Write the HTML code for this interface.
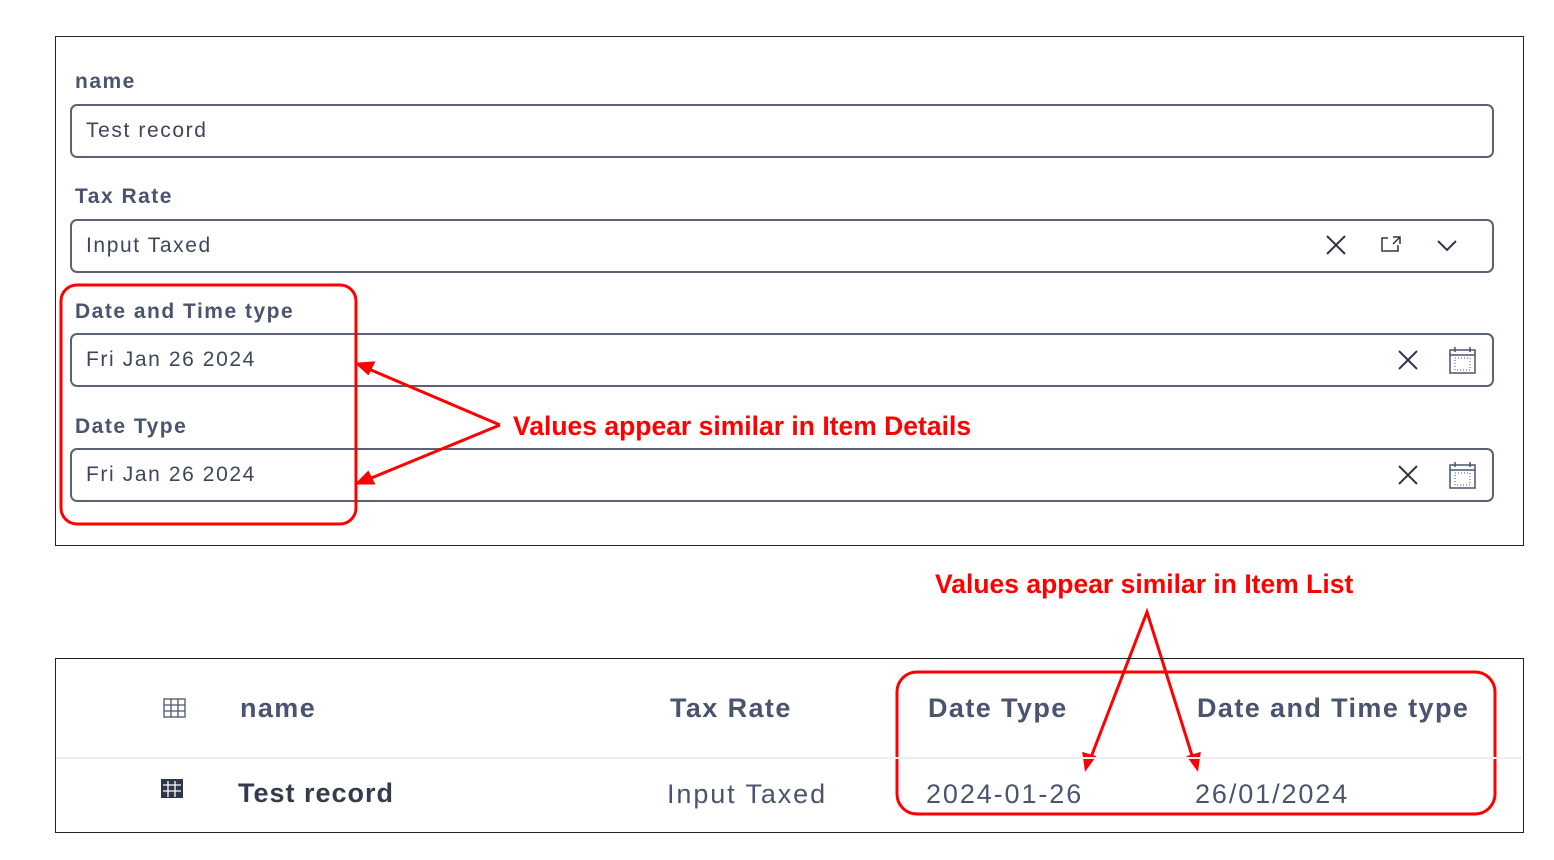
<!DOCTYPE html>
<html><head><meta charset="utf-8"><style>
body{margin:0;width:1554px;height:860px;background:#fff;position:relative;overflow:hidden;font-family:"Liberation Sans",sans-serif}
.a{position:absolute;white-space:nowrap}
.lbl{font-size:21px;font-weight:bold;color:#4a5470;line-height:24px;letter-spacing:1.5px}
.inp{position:absolute;left:70px;width:1424px;border:2px solid #5a6278;border-radius:7px;box-sizing:border-box;height:54px}
.val{position:absolute;left:14px;top:13px;font-size:21px;color:#3e465c;letter-spacing:1.6px}
.hd{font-size:27px;font-weight:bold;color:#4a5470;line-height:30px;letter-spacing:1.4px}
.cell{font-size:27px;color:#4a5470;line-height:30px;letter-spacing:1.9px}
.red{color:#f00;font-weight:bold;font-size:26.5px;line-height:30px}
</style></head><body>
<div class="a" style="left:55px;top:36px;width:1467px;height:508px;border:1px solid #222"></div>
<div class="a lbl" style="left:75px;top:70px">name</div>
<div class="inp" style="top:104px"><span class="val">Test record</span></div>
<div class="a lbl" style="left:75px;top:185px">Tax Rate</div>
<div class="inp" style="top:219px"><span class="val">Input Taxed</span></div>
<div class="a lbl" style="left:75px;top:300px">Date and Time type</div>
<div class="inp" style="top:333px"><span class="val">Fri Jan 26 2024</span></div>
<div class="a lbl" style="left:75px;top:415px">Date Type</div>
<div class="inp" style="top:448px"><span class="val">Fri Jan 26 2024</span></div>
<svg class="a" style="left:0;top:0" width="1554" height="860">
<g stroke="#2f364a" stroke-width="2" fill="none">
<path d="M1327 236l18 18M1345 236l-18 18"/>
<path d="M1388 238h-6v13h16v-6M1393 237h7v7M1400 237l-7 7" stroke-width="1.5"/>
<path d="M1438 241l9 9 9-9"/>
<path d="M1399 351l18 18M1417 351l-18 18"/>
<path d="M1399 466l18 18M1417 466l-18 18"/>
</g>
<g stroke="#4a5470" stroke-width="1.5" fill="none">
<rect x="1450" y="350" width="25" height="23"/><path d="M1450 355h25M1455 347v5M1470 347v5"/>
<rect x="1450" y="465" width="25" height="23"/><path d="M1450 470h25M1455 462v5M1470 462v5"/>
</g>
<g><rect x="1455" y="358" width="15" height="12" fill="none" stroke="#4a5470" stroke-dasharray="1 2"/><rect x="1455" y="473" width="15" height="12" fill="none" stroke="#4a5470" stroke-dasharray="1 2"/></g>
<rect x="61" y="285" width="295" height="239" rx="16" fill="none" stroke="#f00" stroke-width="3"/>
<g stroke="#f00" stroke-width="3" fill="#f00">
<path d="M500 425L364 367M500 425L364 481" fill="none"/>
<path d="M358 364l15 -1l-5 10z"/><path d="M358 483l10 -10l5 10z"/>
<path d="M1088 765L1147 612L1195 765" fill="none"/>
<path d="M1086 768l-2 -14l10 3z"/><path d="M1197 768l-8 -11l10 -3z"/>
</g>
<rect x="897" y="672" width="598" height="142" rx="20" fill="none" stroke="#f00" stroke-width="3"/>
<line x1="56" y1="758" x2="1522" y2="758" stroke="#eceef2" stroke-width="2"/>
<g stroke="#4a5470" stroke-width="1.3" fill="none"><rect x="164" y="699" width="21" height="18"/><path d="M164 705h21M164 711h21M171 699v18M178 699v18"/></g>
<g><rect x="161" y="779" width="22" height="19" fill="#2f364a"/><path d="M163 785h18M163 791h18M168 781v16M175 781v16" stroke="#fff" stroke-width="1.3"/></g>
</svg>
<div class="a red" style="left:513px;top:411px">Values appear similar in Item Details</div>
<div class="a" style="left:55px;top:658px;width:1467px;height:173px;border:1px solid #222"></div>
<div class="a red" style="left:935px;top:569px">Values appear similar in Item List</div>
<div class="a hd" style="left:240px;top:693px">name</div>
<div class="a hd" style="left:670px;top:693px">Tax Rate</div>
<div class="a hd" style="left:928px;top:693px">Date Type</div>
<div class="a hd" style="left:1197px;top:693px">Date and Time type</div>
<div class="a hd" style="left:238px;top:778px;color:#343b4f;letter-spacing:1px">Test record</div>
<div class="a cell" style="left:667px;top:779px">Input Taxed</div>
<div class="a cell" style="left:926px;top:779px">2024-01-26</div>
<div class="a cell" style="left:1195px;top:779px">26/01/2024</div>
</body></html>
